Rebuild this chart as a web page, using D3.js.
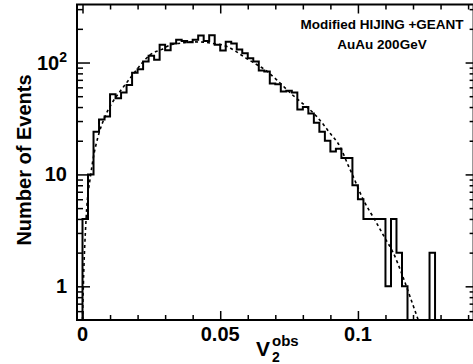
<!DOCTYPE html>
<html lang="en">
  <head>
    <meta charset="UTF-8" />
    <title>v2 obs distribution</title>
    <style>
      body { margin: 0; background: #fff; }
      text { font-family: "Liberation Sans", Arial, sans-serif; font-weight: bold; fill: #000; }
    </style>
  </head>

  <body>
    <svg width="473" height="364"></svg>

    <script src="https://d3js.org/d3.v7.min.js"></script>
    <script>
      (function () {
        "use strict";

        // histogram: bins of width 0.002 starting at 0
        var binStart = 0;
        var binWidth = 0.002;
        var counts = [
          4, 10, 24, 31, 33, 52, 48, 54, 63, 81,
          87, 102, 115, 106, 144, 129, 148, 160, 156, 152,
          160, 174, 156, 175, 144, 128, 153, 148, 131, 121,
          109, 102, 85, 83, 65, 64, 55, 56, 54, 38,
          40, 35, 29, 24, 20, 16, 17, 14, 14, 8,
          6, 4, 4, 4, 4, 1, 4, 2, 1, 0,
          0, 0, 0, 2, 0, 0, 0, 0, 0, 0,
          0, 0
        ];

        // dashed fit curve
        var fitV = [0.0003, 0.0013, 0.003, 0.0039, 0.0057, 0.0082, 0.0106, 0.0136, 0.0172, 0.0221,
          0.0245, 0.0288, 0.0318, 0.0366, 0.0402, 0.0439, 0.0487, 0.0511, 0.053, 0.0554,
          0.0592, 0.0626, 0.0663, 0.0705, 0.076, 0.079, 0.085, 0.0899, 0.0935, 0.0965,
          0.0978, 0.102, 0.1062, 0.1098, 0.1128, 0.1159, 0.1189, 0.1219];
        var fitN = [1.0, 4.0, 10, 14, 22, 33, 43, 55, 72, 102,
          117, 131, 143, 150, 153, 152, 146, 143, 137, 127,
          110, 98, 86, 70, 52, 45, 33, 23.3, 17.7, 12,
          10.2, 5.9, 3.9, 2.7, 2.0, 1.3, 0.81, 0.5];

        var xMajor = [0, 0.05, 0.1];
        var xMajorLabels = ["0", "0.05", "0.1"];
        var xMinor = [0.01, 0.02, 0.03, 0.04, 0.06, 0.07, 0.08, 0.09, 0.11, 0.12, 0.13, 0.14];
        var yMajor = [1, 10, 100];
        var yMinor = [0.6, 0.7, 0.8, 0.9, 2, 3, 4, 5, 6, 7, 8, 9, 20, 30, 40, 50, 60, 70, 80, 90, 200, 300];

        var L = 77, R = 473.6, T = 4.5, B = 320;

        var svg = d3.select("svg");

        var x = d3.scaleLinear().domain([-0.002, 0.142]).range([L, R]);
        var y = d3.scaleLog().domain([0.5, 330]).range([B, T]).clamp(true);

        svg.append("defs").append("clipPath").attr("id", "plot")
          .append("rect").attr("x", L).attr("y", T).attr("width", R - L).attr("height", B - T);

        // histogram outline
        var floor = y.domain()[0];
        var pts = [[binStart, floor]];
        counts.forEach(function (c, i) {
          var v = c > 0 ? c : floor;
          pts.push([binStart + i * binWidth, v]);
          pts.push([binStart + (i + 1) * binWidth, v]);
        });

        var line = d3.line()
          .x(function (d) { return x(d[0]); })
          .y(function (d) { return y(d[1]); });

        svg.append("path")
          .attr("clip-path", "url(#plot)")
          .attr("d", line(pts))
          .attr("fill", "none")
          .attr("stroke", "#000")
          .attr("stroke-width", 2);

        // fit curve
        var fitPts = fitV.map(function (v, i) { return [v, fitN[i]]; });
        fitPts.unshift([0, floor]);
        svg.append("path")
          .attr("clip-path", "url(#plot)")
          .attr("d", line.curve(d3.curveMonotoneX)(fitPts))
          .attr("fill", "none")
          .attr("stroke", "#000")
          .attr("stroke-width", 1.6)
          .attr("stroke-dasharray", "3,3");

        // axes (ROOT style, ticks inside)
        function axis(gen, tx, ty) {
          var g = svg.append("g").attr("transform", "translate(" + tx + "," + ty + ")").call(gen);
          g.selectAll("text").remove();
          g.select(".domain").remove();
          g.selectAll("line").attr("stroke", "#000").attr("stroke-width", 1.5);
          return g;
        }

        axis(d3.axisBottom(x).tickValues(xMajor).tickSize(-9), 0, B);
        axis(d3.axisBottom(x).tickValues(xMinor).tickSize(-5), 0, B);
        axis(d3.axisTop(x).tickValues(xMajor).tickSize(-9), 0, T);
        axis(d3.axisTop(x).tickValues(xMinor).tickSize(-5), 0, T);
        axis(d3.axisLeft(y).tickValues(yMajor).tickSize(-13), L, 0);
        axis(d3.axisLeft(y).tickValues(yMinor).tickSize(-6), L, 0);
        axis(d3.axisRight(y).tickValues(yMajor).tickSize(-8), R, 0);
        axis(d3.axisRight(y).tickValues(yMinor).tickSize(-4), R, 0);

        // frame
        svg.append("rect")
          .attr("x", L).attr("y", T).attr("width", R - L).attr("height", B - T)
          .attr("fill", "none").attr("stroke", "#000").attr("stroke-width", 2);

        // x labels
        svg.selectAll(".xl").data(xMajor).enter().append("text")
          .attr("class", "xl")
          .attr("x", function (d) { return x(d); })
          .attr("y", 341)
          .attr("text-anchor", "middle")
          .attr("font-size", 20)
          .text(function (d, i) { return xMajorLabels[i]; });

        // y labels
        var yl = svg.selectAll(".yl").data(yMajor).enter().append("text")
          .attr("class", "yl")
          .attr("x", 67)
          .attr("y", function (d) { return y(d) + 7; })
          .attr("text-anchor", "end")
          .attr("font-size", 20);
        yl.each(function (d) {
          var t = d3.select(this);
          if (d >= 100) {
            t.append("tspan").text("10");
            t.append("tspan").attr("font-size", 14).attr("dy", -8).text(String(Math.round(Math.log10(d))));
          } else {
            t.text(String(d));
          }
        });

        // axis titles
        svg.append("text")
          .attr("transform", "translate(31," + 160 + ") rotate(-90)")
          .attr("text-anchor", "middle")
          .attr("font-size", 20)
          .text("Number of Events");

        svg.append("text").attr("x", 256).attr("y", 356).attr("font-size", 21).text("V");
        svg.append("text").attr("x", 272).attr("y", 361.5).attr("font-size", 14).text("2");
        svg.append("text").attr("x", 272).attr("y", 345.5).attr("font-size", 15).text("obs");

        // annotation
        svg.append("text").attr("x", 382).attr("y", 29).attr("text-anchor", "middle")
          .attr("font-size", 13.5).text("Modified HIJING +GEANT");
        svg.append("text").attr("x", 382).attr("y", 49).attr("text-anchor", "middle")
          .attr("font-size", 13.5).text("AuAu 200GeV");
      })();
    </script>
  </body>
</html>
